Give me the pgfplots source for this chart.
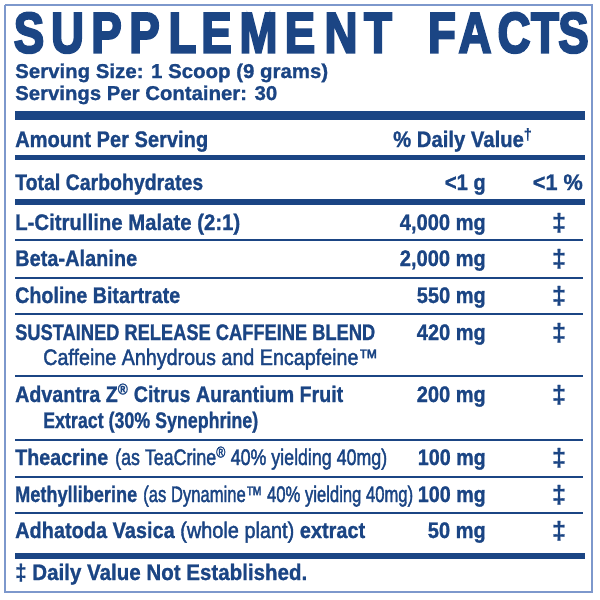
\documentclass[border=0pt]{standalone}
\usepackage{fontspec}
\usepackage{graphicx}
\usepackage{pgfplots}
\pgfplotsset{compat=1.18}
\setmainfont{Liberation Sans}[BoldFeatures={FakeBold=1.1}]
\newfontfamily\medfont{Liberation Sans}[FakeBold=2]
\newfontfamily\titlefont{Liberation Sans Bold}[FakeBold=4]
\definecolor{sfblue}{HTML}{1B4584}
\definecolor{frameblue}{HTML}{7D98CC}
\newcommand\W[2]{\resizebox{#1bp}{\height}{#2}}
\newcommand\body{\fontsize{22.5bp}{27bp}\selectfont\bfseries}
\newcommand\med{\fontsize{22.5bp}{27bp}\medfont\mdseries}
\begin{document}
\begin{tikzpicture}
\begin{axis}[at={(0,0)}, anchor=south west, scale only axis,
  width=600bp, height=600bp, xmin=0, xmax=600, ymin=0, ymax=600,
  y dir=reverse, hide axis, clip=false]
% frame
\addplot[frameblue, line width=1.3bp, mark=none] coordinates {(5,5) (592,5) (592,592) (5,592) (5,5)};
% thick rules
\addplot[sfblue, line width=9bp, mark=none] coordinates {(15,115.5) (585,115.5)};
\addplot[sfblue, line width=5bp, mark=none] coordinates {(15,157.5) (585,157.5)};
\addplot[sfblue, line width=6bp, mark=none] coordinates {(15,202) (585,202)};
\addplot[sfblue, line width=6.5bp, mark=none] coordinates {(15,556) (585,556)};
% thin rules
\addplot[sfblue, line width=2.2bp, mark=none] coordinates {(15,240) (583,240)};
\addplot[sfblue, line width=2.2bp, mark=none] coordinates {(15,278) (583,278)};
\addplot[sfblue, line width=2.2bp, mark=none] coordinates {(15,314) (583,314)};
\addplot[sfblue, line width=2.2bp, mark=none] coordinates {(15,376) (583,376)};
\addplot[sfblue, line width=2.2bp, mark=none] coordinates {(15,440) (583,440)};
\addplot[sfblue, line width=2.2bp, mark=none] coordinates {(15,477) (583,477)};
\addplot[sfblue, line width=2.2bp, mark=none] coordinates {(15,513) (583,513)};
% title letters
\begin{scope}[every node/.style={anchor=base, inner sep=0pt, text depth=0pt, text=sfblue, font=\fontsize{57bp}{60bp}\titlefont}]
\node at (axis cs:29,52.5) {\scalebox{0.8}[1]{S}};
\node at (axis cs:67.5,52.5) {\scalebox{0.8}[1]{U}};
\node at (axis cs:106.5,52.5) {\scalebox{0.8}[1]{P}};
\node at (axis cs:144.5,52.5) {\scalebox{0.8}[1]{P}};
\node at (axis cs:182.5,52.5) {\scalebox{0.8}[1]{L}};
\node at (axis cs:216.5,52.5) {\scalebox{0.8}[1]{E}};
\node at (axis cs:258.5,52.5) {\scalebox{0.8}[1]{M}};
\node at (axis cs:300,52.5) {\scalebox{0.8}[1]{E}};
\node at (axis cs:341,52.5) {\scalebox{0.8}[1]{N}};
\node at (axis cs:378,52.5) {\scalebox{0.8}[1]{T}};
\node at (axis cs:442,52.5) {\scalebox{0.8}[1]{F}};
\node at (axis cs:475,52.5) {\scalebox{0.8}[1]{A}};
\node at (axis cs:514,52.5) {\scalebox{0.8}[1]{C}};
\node at (axis cs:545,52.5) {\scalebox{0.8}[1]{T}};
\node at (axis cs:573.5,52.5) {\scalebox{0.8}[1]{S}};
\end{scope}
\begin{scope}[every node/.style={inner sep=0pt, text=sfblue}]
\node[anchor=base west] at (axis cs:15,78) {\fontsize{20bp}{24bp}\selectfont\bfseries\W{313}{Serving Size: 1 Scoop (9 grams)}};
\node[anchor=base west] at (axis cs:15,100) {\fontsize{20bp}{24bp}\selectfont\bfseries\W{262}{Servings Per Container: 30}};
\node[anchor=base west] at (axis cs:15,147) {\body\W{193}{Amount Per Serving}};
\node[anchor=base west] at (axis cs:393,147) {\body\W{139}{\% Daily Value\textsuperscript{†}}};
\node[anchor=base west] at (axis cs:15,190) {\body\W{188}{Total Carbohydrates}};
\node[anchor=base east] at (axis cs:486,190) {\body\W{41}{<1 g}};
\node[anchor=base east] at (axis cs:583,190) {\body\W{50}{<1 \%}};
% rows
\node[anchor=base west] at (axis cs:15,230) {\body\W{225}{L-Citrulline Malate (2:1)}};
\node[anchor=base east] at (axis cs:486,230) {\body\W{86}{4,000 mg}};
\node[anchor=base west] at (axis cs:15,266) {\body\W{122}{Beta-Alanine}};
\node[anchor=base east] at (axis cs:486,266) {\body\W{86}{2,000 mg}};
\node[anchor=base west] at (axis cs:15,303) {\body\W{165}{Choline Bitartrate}};
\node[anchor=base east] at (axis cs:486,303) {\body\W{69}{550 mg}};
\node[anchor=base west] at (axis cs:15,340) {\body\W{360}{SUSTAINED RELEASE CAFFEINE BLEND}};
\node[anchor=base east] at (axis cs:486,340) {\body\W{69}{420 mg}};
\node[anchor=base west] at (axis cs:43,365) {\med\W{335}{Caffeine Anhydrous and Encapfeine™}};
\node[anchor=base west] at (axis cs:15,402) {\body\W{328}{Advantra Z\textsuperscript{®} Citrus Aurantium Fruit}};
\node[anchor=base east] at (axis cs:486,402) {\body\W{69}{200 mg}};
\node[anchor=base west] at (axis cs:43,428) {\body\W{215}{Extract (30\% Synephrine)}};
\node[anchor=base west] at (axis cs:15,465) {\body\W{93}{Theacrine}};
\node[anchor=base west] at (axis cs:115,465) {\med\W{272}{(as TeaCrine\textsuperscript{®} 40\% yielding 40mg)}};
\node[anchor=base east] at (axis cs:486,465) {\body\W{68}{100 mg}};
\node[anchor=base west] at (axis cs:15,502) {\body\W{122}{Methylliberine}};
\node[anchor=base west] at (axis cs:143,502) {\med\W{270}{(as Dynamine™ 40\% yielding 40mg)}};
\node[anchor=base east] at (axis cs:486,502) {\body\W{68}{100 mg}};
\node[anchor=base west] at (axis cs:15,538) {\body\W{350}{Adhatoda Vasica {\medfont\mdseries (whole plant)} extract}};
\node[anchor=base east] at (axis cs:486,538) {\body\W{58}{50 mg}};
% daily value column
\begin{scope}[every node/.style={anchor=base, inner sep=0pt, text=sfblue, font=\fontsize{25bp}{28bp}\selectfont\bfseries}]
\node at (axis cs:559,231) {‡};
\node at (axis cs:559,267) {‡};
\node at (axis cs:559,304) {‡};
\node at (axis cs:559,341) {‡};
\node at (axis cs:559,403) {‡};
\node at (axis cs:559,466) {‡};
\node at (axis cs:559,503) {‡};
\node at (axis cs:559,539) {‡};
\end{scope}
% footer
\node[anchor=base west] at (axis cs:15,580) {\body\W{292}{‡ Daily Value Not Established.}};
\end{scope}
\end{axis}
\pgfresetboundingbox
\useasboundingbox (0,0) rectangle (600bp,600bp);
\end{tikzpicture}
\end{document}
